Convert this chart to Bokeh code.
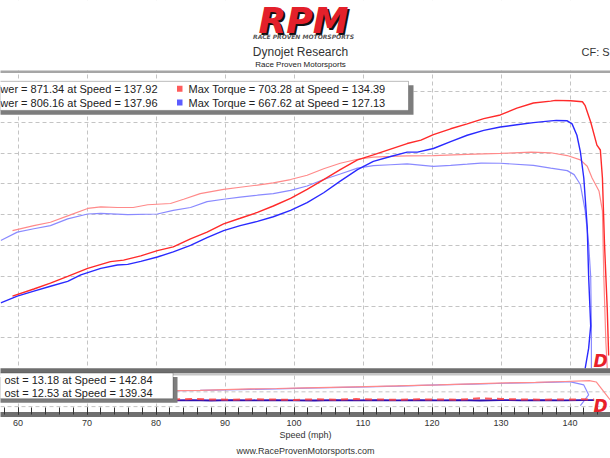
from bokeh.plotting import figure
from bokeh.models import Range1d, SingleIntervalTicker, FixedTicker, BoxAnnotation, Label, Span
from bokeh.embed import file_html
from bokeh.resources import INLINE

# ---------------- data ----------------
x_tick_interval = 10
main_grid_values = [100, 200, 300, 400, 500, 600, 700, 800, 900]
boost_grid_values = [0, 7.5]

# Run 1 (red) power
rp_speed = [59.2, 62.3, 64.7, 67.2, 70.1, 73.4, 75.3, 77.8, 80.2, 82.5, 85.0, 87.4, 89.8, 92.2, 94.7,
            97.0, 99.5, 101.9, 104.3, 106.7, 109.2, 111.5, 114.0, 116.4, 118.4, 120.2, 122.7, 125.1,
            127.5, 129.9, 132.3, 134.7, 137.2, 137.9, 140.1, 141.8, 142.2, 143.0, 143.9, 144.4, 144.7,
            145.0, 145.4, 145.6]
rp_hp = [235, 258, 277, 299, 325, 347, 352, 366, 383, 395, 421, 443, 470, 488, 507, 528, 553, 582,
         614, 646, 678, 694, 713, 731, 742, 760, 779, 795, 812, 824, 846, 863, 869, 871.3, 870, 867,
         854, 801, 726, 710, 619, 405, 192, 42]
# Run 1 (red) torque
rt_speed = [59.2, 62.3, 64.7, 67.2, 70.1, 72.0, 74.4, 76.7, 78.8, 82.1, 84.0, 86.4, 89.8, 92.2, 94.7,
            97.0, 99.5, 101.9, 104.3, 106.7, 109.2, 111.5, 114.0, 116.4, 120.2, 125.1, 129.9, 134.4,
            137.2, 139.6, 141.5, 142.5, 143.2, 144.2, 144.7, 144.9, 145.2, 145.4]
rt_tq = [448, 464, 475, 496, 520, 525, 523, 523, 532, 536, 550, 568, 582, 589, 596, 603, 614, 628,
         649, 667, 680, 687, 689, 691, 692, 696, 699, 703.3, 701, 692, 678, 657, 619, 577, 512, 299,
         85, 0]
# Run 2 (blue) power
bp_speed = [57.5, 59.9, 62.3, 64.7, 67.2, 69.1, 72.0, 74.4, 75.9, 77.8, 80.2, 82.5, 85.0, 87.4, 89.8,
            92.2, 94.7, 97.0, 99.5, 101.9, 104.3, 106.7, 109.2, 111.5, 114.0, 116.4, 117.9, 120.2,
            122.7, 125.1, 127.5, 129.9, 132.3, 134.7, 136.5, 138.0, 139.6, 140.3, 141.0, 141.5,
            142.0, 142.5, 142.7, 143.0, 142.7, 142.2]
bp_hp = [213, 235, 251, 267, 283, 304, 325, 336, 338, 348, 362, 379, 400, 425, 448, 464, 478, 493,
         514, 539, 571, 609, 646, 673, 689, 703, 703, 715, 737, 758, 774, 785, 792, 799, 803, 806.2,
         805, 795, 758, 705, 619, 459, 299, 138, 65, 0]
# Run 2 (blue) torque
bt_speed = [57.5, 59.9, 62.3, 64.7, 67.2, 70.1, 72.0, 75.9, 80.2, 82.5, 85.0, 87.4, 89.8, 92.2, 94.7,
            97.0, 99.5, 101.9, 104.3, 106.7, 109.2, 111.5, 114.0, 116.4, 120.2, 122.7, 125.1, 127.1,
            129.9, 134.7, 137.2, 139.6, 140.6, 141.5, 142.2, 142.7, 143.0, 143.1, 143.1]
bt_tq = [416, 443, 454, 464, 486, 502, 504, 500, 502, 514, 523, 542, 550, 557, 563, 568, 579, 593,
         614, 632, 651, 659, 662, 665, 657, 660, 664, 667.6, 667, 660, 651, 643, 630, 598, 512, 405,
         299, 138, 0]

# Boost (lower panel)
b1_speed = [79.5, 83.0, 86.4, 90.0, 93.7, 97.5, 101.7, 108.9, 115.0, 120.9, 125.8, 130.7, 135.0,
            139.3, 142.8, 143.8, 144.7, 145.8]
b1_boost = [7.75, 8.1, 8.25, 8.6, 9.0, 9.2, 9.5, 10.0, 10.5, 11.0, 11.5, 12.0, 12.3, 12.75, 13.18,
            12.5, 8.5, 3.5]
b2_speed = [79.0, 83.0, 86.4, 90.0, 93.7, 97.5, 101.7, 108.9, 115.0, 120.9, 125.8, 130.7, 135.0,
            139.3, 140.1, 142.0, 142.7, 141.5]
b2_boost = [8.0, 8.1, 8.25, 8.5, 8.75, 9.0, 9.35, 9.85, 10.4, 11.0, 11.4, 11.85, 12.2, 12.5, 12.53,
            11.0, 6.0, 0.5]
aux_speed = [79.0, 82, 85, 88, 91, 94, 97, 100, 103, 106, 109, 112, 115, 118, 121, 124, 127, 130,
             133, 136, 139, 142, 143.5]
aux_run1 = [3.6, 3.5, 3.9, 3.6, 3.5, 3.7, 3.6, 3.4, 3.7, 3.5, 3.8, 3.6, 3.5, 3.7, 3.6, 3.5, 4.2, 3.9,
            3.6, 3.5, 3.6, 3.7, 3.6]
aux_run2 = [3.3, 3.2, 3.3, 3.1, 3.3, 3.2, 3.3, 3.2, 3.1, 3.3, 3.2, 3.3, 3.2, 3.3, 3.2, 3.3, 3.1, 3.3,
            3.2, 3.3, 3.2, 3.3, 3.3]

# legend texts as visible in the (cropped) reference
legend_main = [
    ("wer = 871.34 at Speed = 137.92", "Max Torque = 703.28 at Speed = 134.39"),
    ("wer = 806.16 at Speed = 137.96", "Max Torque = 667.62 at Speed = 127.13"),
]
legend_boost = ["ost = 13.18 at Speed = 142.84", "ost = 12.53 at Speed = 139.34"]

RED, BLUE = "#ff2a2a", "#2a2aff"
RED_L, BLUE_L = "#ff8a8a", "#8a8aff"

# ------------- placement helpers (page pixel -> axis units, decorations only) -------------
def sx(X):
    return 60 + (X - 17.5) / 6.9

def sy(Y):
    return (373.2 - Y) / 0.312

def by(Y):
    return (412.0 - Y) / 2.0

W, H = 610, 458
FRAME_BOTTOM = 420
p = figure(width=W, height=H, output_backend="svg", toolbar_location=None,
           x_range=Range1d(sx(0), sx(W)), y_range=Range1d(sy(FRAME_BOTTOM), sy(0)),
           y_axis_location=None, min_border_left=0, min_border_right=0,
           min_border_top=0, min_border_bottom=H - FRAME_BOTTOM)
p.title.visible = False
p.extra_y_ranges = {"boost": Range1d(by(FRAME_BOTTOM), by(0))}
p.outline_line_color = None
p.background_fill_color = "white"
p.border_fill_color = "white"

# grids
p.xgrid.ticker = SingleIntervalTicker(interval=x_tick_interval)
p.ygrid.ticker = FixedTicker(ticks=main_grid_values)
for g in (p.xgrid, p.ygrid):
    g.grid_line_color = "#c4c4c4"
    g.grid_line_dash = "4 3"
    g.grid_line_width = 1
for v in boost_grid_values:
    p.add_layout(Span(location=v, dimension="width", y_range_name="boost", line_color="#c4c4c4",
                      line_dash="4 3", line_width=1, level="underlay"))

# axis
ax = p.xaxis[0]
ax.ticker = SingleIntervalTicker(interval=x_tick_interval, num_minor_ticks=5)
ax.axis_line_width = 5
ax.axis_line_color = "#707070"
ax.major_tick_in = 7
ax.major_tick_out = 0
ax.minor_tick_in = 7
ax.minor_tick_out = 0
ax.major_tick_line_color = "#333333"
ax.minor_tick_line_color = "#333333"
ax.major_label_text_font = "Liberation Sans"
ax.major_label_text_font_size = "9px"
ax.major_label_text_color = "#333333"
ax.major_label_standoff = 5
ax.axis_label = "Speed (mph)\nwww.RaceProvenMotorsports.com"
ax.axis_label_text_font = "Liberation Sans"
ax.axis_label_text_font_size = "9px"
ax.axis_label_text_font_style = "normal"
ax.axis_label_text_color = "#333333"
ax.axis_label_text_line_height = 1.6
ax.axis_label_standoff = 1

# curves: main panel
p.line(rt_speed, rt_tq, line_color=RED_L, line_width=1.2)
p.line(bt_speed, bt_tq, line_color=BLUE_L, line_width=1.2)
p.line(bp_speed, bp_hp, line_color=BLUE, line_width=1.4)
p.line(rp_speed, rp_hp, line_color=RED, line_width=1.4)

# curves: boost panel
p.line(b2_speed, b2_boost, y_range_name="boost", line_color=BLUE_L, line_width=1.2)
p.line(b1_speed, b1_boost, y_range_name="boost", line_color=RED_L, line_width=1.2)
p.line(aux_speed, aux_run2, y_range_name="boost", line_color="#3010b0", line_width=1.8)
p.line(aux_speed, aux_run1, y_range_name="boost", line_color="#ff4040", line_width=2,
       line_dash="7 5", line_alpha=0.85)

LEFT, RIGHT = sx(-50), sx(W + 50)
# header area (white) and frame bands
p.add_layout(BoxAnnotation(left=LEFT, right=RIGHT, top=sy(-20), bottom=sy(71),
                           fill_color="white", fill_alpha=1, line_color=None))
p.add_layout(BoxAnnotation(left=LEFT, right=RIGHT, top=sy(71), bottom=sy(73.5),
                           fill_color="#a6a6a6", fill_alpha=1, line_color=None))
p.add_layout(BoxAnnotation(left=LEFT, right=RIGHT, top=sy(373), bottom=sy(378),
                           fill_color="#6e6e6e", fill_alpha=1, line_color=None))
p.add_layout(BoxAnnotation(left=LEFT, right=RIGHT, top=sy(378), bottom=sy(380.5),
                           fill_color="#c6c6c6", fill_alpha=1, line_color=None))

# legend box (main)
p.add_layout(BoxAnnotation(left=LEFT, right=sx(413), top=sy(86), bottom=sy(116),
                           fill_color="#7d7d7d", fill_alpha=1, line_color=None))
p.add_layout(BoxAnnotation(left=LEFT, right=sx(408), top=sy(82), bottom=sy(111.5),
                           fill_color="white", fill_alpha=1, line_color="#222222", line_width=1))
# legend box (boost)
p.add_layout(BoxAnnotation(left=LEFT, right=sx(177), top=sy(382), bottom=sy(408),
                           fill_color="#7d7d7d", fill_alpha=1, line_color=None))
p.add_layout(BoxAnnotation(left=LEFT, right=sx(172.5), top=sy(378), bottom=sy(404),
                           fill_color="white", fill_alpha=1, line_color="#222222", line_width=1))

font = "Liberation Sans"
row_y = [89.5, 103.5]
sq_colors = ["#ff5c5c", "#5c5cff"]
for i, (t1, t2) in enumerate(legend_main):
    p.add_layout(Label(x=sx(157), y=sy(row_y[i]), text=t1, text_align="right",
                       text_baseline="middle", text_font=font, text_font_size="11px",
                       text_color="#222222"))
    p.add_layout(BoxAnnotation(left=sx(176.5), right=sx(182), top=sy(row_y[i] - 3),
                               bottom=sy(row_y[i] + 3), fill_color=sq_colors[i], fill_alpha=1,
                               line_color=None))
    p.add_layout(Label(x=sx(188), y=sy(row_y[i]), text=t2, text_align="left",
                       text_baseline="middle", text_font=font, text_font_size="11px",
                       text_color="#222222"))
brow_y = [384.5, 398]
for i, t in enumerate(legend_boost):
    p.add_layout(Label(x=sx(152), y=sy(brow_y[i]), text=t, text_align="right",
                       text_baseline="middle", text_font=font, text_font_size="11px",
                       text_color="#222222"))

# Dynojet watermarks (bottom right)
for yy in (366, 411):
    p.add_layout(Label(x=sx(593), y=sy(yy), text="D", text_align="left", text_baseline="middle",
                       text_font="DejaVu Sans", text_font_style="bold italic",
                       text_font_size="17px", text_color="#e8202a"))

# header
p.add_layout(Label(x=sx(305), y=sy(22), text="RPM", text_align="center", text_baseline="middle",
                   text_font="DejaVu Sans", text_font_style="bold italic", text_font_size="36px",
                   text_color="#111111"))
p.add_layout(Label(x=sx(303), y=sy(20), text="RPM", text_align="center", text_baseline="middle",
                   text_font="DejaVu Sans", text_font_style="bold italic", text_font_size="36px",
                   text_color="#e3202b"))
p.add_layout(Label(x=sx(303), y=sy(37), text="RACE PROVEN MOTORSPORTS", text_align="center",
                   text_baseline="middle", text_font="DejaVu Sans", text_font_style="bold italic",
                   text_font_size="6px", text_color="#555555"))
p.add_layout(Label(x=sx(300), y=sy(52), text="Dynojet Research", text_align="center",
                   text_baseline="middle", text_font=font, text_font_size="12px",
                   text_color="#333333"))
p.add_layout(Label(x=sx(300), y=sy(65), text="Race Proven Motorsports", text_align="center",
                   text_baseline="middle", text_font=font, text_font_size="8px",
                   text_color="#222222"))
p.add_layout(Label(x=sx(581), y=sy(52), text="CF: S", text_align="left",
                   text_baseline="middle", text_font=font, text_font_size="11px",
                   text_color="#333333"))

open("out.html", "w").write(file_html(p, INLINE))
